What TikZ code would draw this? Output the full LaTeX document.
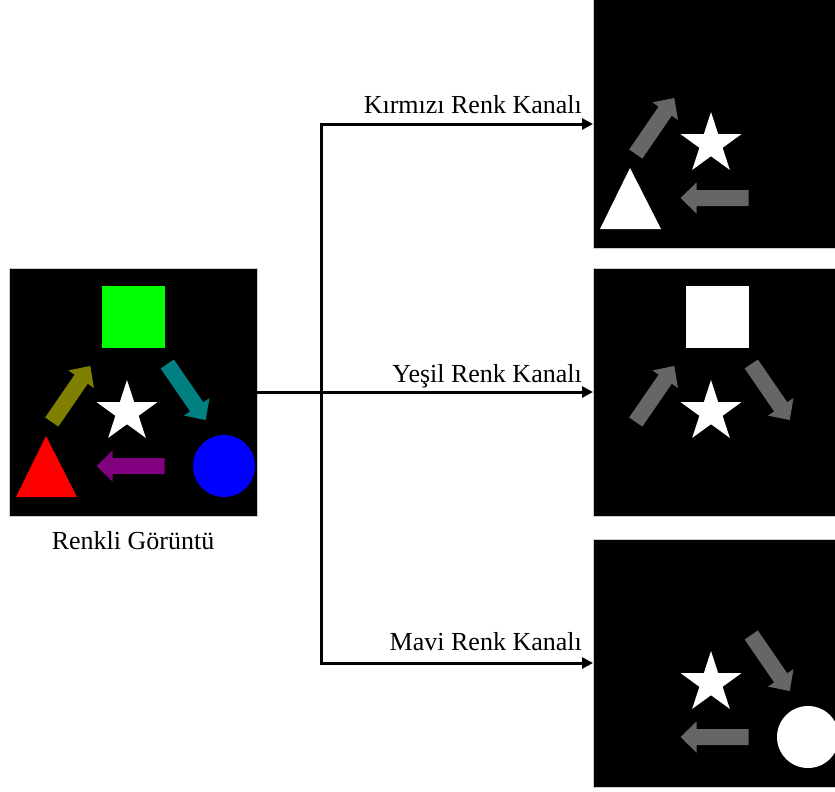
\documentclass[tikz,border=0pt]{standalone}
\usepackage{fontspec}
\setmainfont{Liberation Serif}
\usetikzlibrary{arrows.meta}

\definecolor{pixred}{RGB}{255,0,0}
\definecolor{pixgreen}{RGB}{0,255,0}
\definecolor{pixblue}{RGB}{0,0,255}
\definecolor{pixolive}{RGB}{128,128,0}
\definecolor{pixteal}{RGB}{0,128,128}
\definecolor{pixpurple}{RGB}{128,0,128}
\definecolor{chgray}{RGB}{102,102,102}

% thick arrow: centre x, centre y, angle, colour
\newcommand{\fatarrow}[4]{%
  \fill[#4, shift={(#1,#2)}, rotate=#3] (-34,-8) -- (18,-8) -- (18,-15.5) -- (34,0)
    -- (18,15.5) -- (18,8) -- (-34,8) -- cycle;}

% shapes of one image: node, square, olive, teal, star, purple, triangle, circle
\newcommand{\scene}[8]{%
  \begin{scope}[shift={(#1.north west)}]
    \fill[#2] (93,18) rectangle (156,80);
    \fatarrow{62}{126}{55.5}{#3}
    \fatarrow{177.5}{124}{-55.5}{#4}
    \fill[#5, shift={(118,144)}] (-90:32)
      \foreach \k in {0,...,4} { -- (-54+72*\k:12.22) -- (-18+72*\k:32) } -- cycle;
    \fatarrow{121.5}{198}{180}{#6}
    \fill[#7] (37,168) -- (68,229) -- (7,229) -- cycle;
    \fill[#8] (215,198) circle[radius=31];
  \end{scope}}

\begin{document}
\begin{tikzpicture}[x=1pt, y=-1pt,
    imgbox/.style ={fill=black, draw=black!20, line width=1pt,
      minimum size=248, inner sep=0, outer sep=0},
    caption/.style ={inner sep=0, font=\fontsize{26}{30}\selectfont},
    link/.style ={line width=3pt, -{Triangle[length=11pt, width=11pt]}}]
   \fill[white] (0,0) rectangle (835,792);
   \clip (0,0) rectangle (835,792);

   \node[imgbox] (rgb) at (133,392) {};
   \node[imgbox] (red) at (717,124) {};
   \node[imgbox] (green) at (717,392) {};
   \node[imgbox] (blue) at (717,663) {};

   \scene{rgb}{pixgreen}{pixolive}{pixteal}{white}{pixpurple}{pixred}{pixblue}
   \scene{red}{black}{chgray}{black}{white}{chgray}{white}{black}
   \scene{green}{white}{chgray}{chgray}{white}{black}{black}{black}
   \scene{blue}{black}{black}{chgray}{white}{chgray}{black}{white}

   \node[caption, anchor=base] (rgblabel) at (133,549) {Renkli Görüntü};
   \node[caption, anchor=base east] (redlabel) at (582,113) {Kırmızı Renk Kanalı};
   \node[caption, anchor=base east] (greenlabel) at (582,382) {Yeşil Renk Kanalı};
   \node[caption, anchor=base east] (bluelabel) at (582,650) {Mavi Renk Kanalı};

   \coordinate (split) at (321,392);
   \draw[link] (rgb.east) -- (green.west);
   \draw[link] (split) |- (red.west);
   \draw[link] (split) |- (blue.west);
 \end{tikzpicture}
\end{document}
